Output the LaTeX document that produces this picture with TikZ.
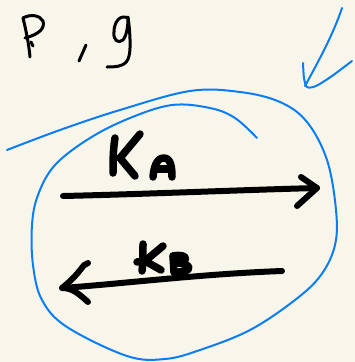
\documentclass[tikz,border=0pt]{standalone}
\begin{document}
\begin{tikzpicture}[x=1pt,y=-1pt,
  ink/.style={draw=black,line width=6pt,line cap=round,line join=round},
  letter/.style={draw=black,line width=7.5pt,line cap=round,line join=round},
  thin ink/.style={draw=black,line width=3pt,line cap=round,line join=round},
  pen/.style={draw=penblue,line width=2pt,line cap=round,line join=round}]
\definecolor{paper}{RGB}{248,246,234}
\definecolor{penblue}{RGB}{10,125,245}
\fill[paper] (0,0) rectangle (355,362);
\useasboundingbox (0,0) rectangle (355,362);

% handwritten "P , g"
\path[thin ink] (23,18) .. controls (26,30) and (29,45) .. (30,57);
\path[thin ink] (23,18) .. controls (30,14) and (40,15) .. (43,21)
  .. controls (45,28) and (40,34) .. (25,38);
\path[thin ink] (31,42) -- (33,46);
\path[thin ink] (86,45) -- (79,61);
\path[thin ink] (128,18) .. controls (120,14) and (114,22) .. (114,32)
  .. controls (113,40) and (118,44) .. (123,40) .. controls (127,35) and (128,25) .. (128,18);
\path[thin ink] (128,17) .. controls (130,30) and (131,50) .. (129,56)
  .. controls (127,66) and (118,67) .. (107,67);

% blue arrow pointing into the loop
\coordinate (bstart) at (342,8);
\coordinate (btip) at (305,86);
\draw[pen] (bstart) .. controls (333,35) and (318,62) .. (btip);
\draw[pen] plot[smooth] coordinates {(303,63) (304,78) (307,87) (316,86) (332,76) (352,61)};

% blue loop
\draw[pen] plot[smooth,tension=0.6] coordinates {
  (7,150) (60,130) (120,110) (190,91) (240,92) (280,102) (307,122)
  (327,160) (336,210) (335,245) (321,275) (295,300) (250,330)
  (200,350) (165,359) (127,356) (67,327) (42,300) (33,265) (32,225)
  (38,195) (55,165) (90,138) (130,118) (172,105) (210,108) (235,118) (257,138)};

% forward arrow K_A
\coordinate (a1) at (63,196);
\coordinate (a2) at (317,188);
\path[ink] (a1) .. controls (150,194) and (240,190) .. (a2);
\path[ink] (301,177) -- (a2) -- (297,206);
% label K A
\path[letter] (115,138) .. controls (113,150) and (113,162) .. (113,173);
\path[letter] (140,134) -- (120,158) -- (135,176);
\path[letter] (153,177) .. controls (154,166) and (157,158) .. (164,158)
  .. controls (171,158) and (172,168) .. (172,177);
\path[letter] (157,169) -- (170,169);

% backward arrow K_B
\coordinate (b1) at (282,271);
\coordinate (b2) at (62,288);
\path[ink] (b1) .. controls (200,274) and (120,284) .. (b2);
\path[ink] (88,263) .. controls (82,264) and (82,272) .. (b2)
  .. controls (72,288) and (78,293) .. (88,302);
% label K B
\path[letter] (143,244) .. controls (143,254) and (143,264) .. (142,271);
\path[letter] (163,246) -- (145,261) -- (161,270);
\path[letter] (137,262) -- (145,261);
\path[letter] (173,256) -- (174,272);
\path[letter] (173,256) .. controls (188,253) and (190,262) .. (176,263)
  .. controls (193,263) and (194,273) .. (174,272);
\end{tikzpicture}
\end{document}
